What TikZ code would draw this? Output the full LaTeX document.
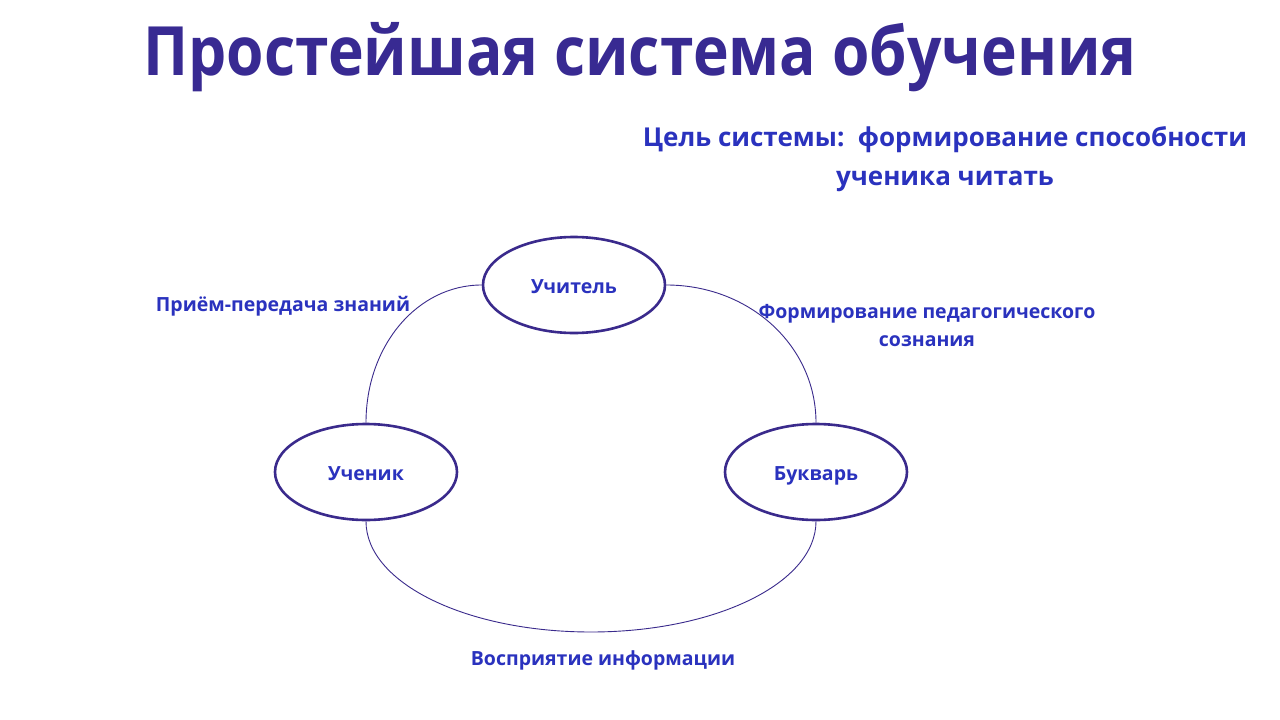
\documentclass[tikz,border=0pt]{standalone}
\usepackage{fontspec}
\setmainfont{Open Sans}
\usetikzlibrary{shapes.geometric}
\definecolor{titlec}{RGB}{56,42,146}
\definecolor{labc}{RGB}{42,50,190}
\definecolor{linec}{RGB}{58,42,140}
\begin{document}
\begin{tikzpicture}[x=1pt,y=-1pt,
  elnode/.style={ellipse,draw=linec,line width=2.6pt,minimum width=182pt,minimum height=96pt,inner sep=0pt,text height=18pt,text depth=2pt,font=\bfseries\fontsize{19.5}{22}\selectfont,text=labc},
  conn/.style={draw=linec,line width=0.9pt},
  lab/.style={font=\bfseries\fontsize{19.5}{28}\selectfont,text=labc,align=center,inner sep=0pt}]
\useasboundingbox[fill=white] (0,0) rectangle (1280,720);
\node[font=\bfseries\fontsize{68}{72}\selectfont,text=titlec,inner sep=0pt,xscale=0.89] (title) at (640,57) {Простейшая система обучения};
\node[font=\bfseries\fontsize{26}{39}\selectfont,text=labc,align=center,inner sep=0pt] (goal) at (945,159) {Цель системы:\ \ формирование способности\\ученика читать};
\node[elnode] (teacher) at (574,285) {Учитель};
\node[elnode] (pupil) at (366,472) {Ученик};
\node[elnode] (book) at (816,472) {Букварь};
\coordinate (bot) at (591,632);
\draw[conn] (teacher.west) .. controls +(-64.6,0) and +(0,-76.8) .. (pupil.north);
\draw[conn] (teacher.east) .. controls +(83.4,0) and +(0,-76.8) .. (book.north);
\draw[conn] (pupil.south) .. controls +(0,61.9) and +(-124.3,0) .. (bot) .. controls +(124.3,0) and +(0,61.9) .. (book.south);
\node[lab] (l1) at (283,306) {Приём-передача знаний};
\node[lab] (l2) at (927,326) {Формирование педагогического\\сознания};
\node[lab] (l3) at (603,660) {Восприятие информации};
\end{tikzpicture}
\end{document}
